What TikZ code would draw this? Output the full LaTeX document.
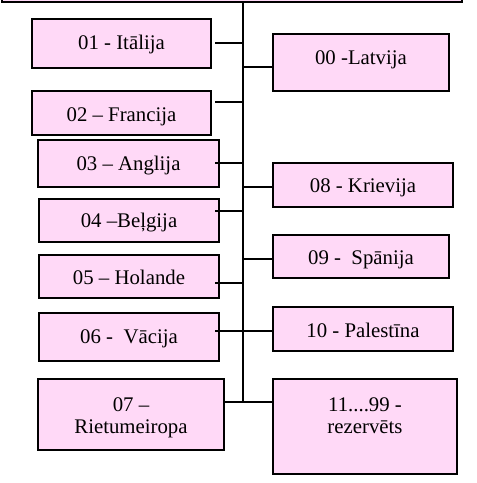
\documentclass[tikz,border=0pt]{standalone}
\usepackage{fontspec}
\setmainfont{Liberation Serif}
\definecolor{pinkfill}{RGB}{255,217,247}
\begin{document}
\begin{tikzpicture}[x=1pt,y=1pt,
  box/.style={draw=black, fill=pinkfill, line width=2pt, inner sep=0pt},
  txt/.style={anchor=base, inner sep=0pt, font=\fontsize{20.8}{22}\selectfont},
  conn/.style={draw=black, line width=2pt}]
\useasboundingbox (0,0) rectangle (477,-483);
% top box (cut off by the page)
\node[box, minimum width=460, minimum height=30, anchor=south west] (top) at (1,-3) {};
% left boxes
\node[box, minimum width=179, minimum height=49] (b01) at (121.5,-43.5) {};
\node[box, minimum width=179, minimum height=44] (b02) at (121.5,-113) {};
\node[box, minimum width=181, minimum height=47] (b03) at (128.5,-163.5) {};
\node[box, minimum width=180, minimum height=43] (b04) at (129,-220.5) {};
\node[box, minimum width=180, minimum height=43] (b05) at (129,-276.5) {};
\node[box, minimum width=180, minimum height=48] (b06) at (129,-337) {};
\node[box, minimum width=186, minimum height=71] (b07) at (131,-414.5) {};
% right boxes
\node[box, minimum width=176, minimum height=57] (b00) at (361,-62.5) {};
\node[box, minimum width=180, minimum height=44] (b08) at (363,-185) {};
\node[box, minimum width=176, minimum height=43] (b09) at (361,-256.5) {};
\node[box, minimum width=180, minimum height=44] (b10) at (363,-329) {};
\node[box, minimum width=184, minimum height=95] (b11) at (365,-426.5) {};
% texts
\node[txt] (t01) at (121.5,-49) {01 - Itālija};
\node[txt] (t02) at (121.5,-121) {02 – Francija};
\node[txt] (t03) at (128.5,-170) {03 – Anglija};
\node[txt] (t04) at (129,-227) {04 –Beļgija};
\node[txt] (t05) at (129,-284) {05 – Holande};
\node[txt] (t06) at (129,-343) {06 - \ Vācija};
\node[txt] (t07a) at (131,-411) {07 –};
\node[txt] (t07b) at (131,-433) {Rietumeiropa};
\node[txt] (t00) at (361,-64) {00 -Latvija};
\node[txt] (t08) at (363,-192) {08 - Krievija};
\node[txt] (t09) at (361,-264) {09 - \ Spānija};
\node[txt] (t10) at (363,-337) {10 - Palestīna};
\node[txt] (t11a) at (365,-411) {11....99 -};
\node[txt] (t11b) at (365,-433) {rezervēts};
% spine
\coordinate (sp) at (243,-402);
\draw[conn] (top.south -| sp) -- (sp);
% left connectors
\draw[conn] ([xshift=3,yshift=0.5]b01.east) -- ([yshift=0.5]b01.east -| sp);
\draw[conn] ([xshift=3,yshift=11]b02.east) -- ([yshift=11]b02.east -| sp);
\draw[conn] ([xshift=-5,yshift=0.5]b03.east) -- ([yshift=0.5]b03.east -| sp);
\draw[conn] ([xshift=-5,yshift=9.5]b04.east) -- ([yshift=9.5]b04.east -| sp);
\draw[conn] ([xshift=-5,yshift=-6.5]b05.east) -- ([yshift=-6.5]b05.east -| sp);
\draw[conn] ([xshift=-5,yshift=6]b06.east) -- ([yshift=6]b06.east -| b10.west);
\draw[conn] ([yshift=12.5]b07.east) -- (sp);
% right connectors
\draw[conn] ([yshift=-4.5]b00.west) -- ([yshift=-4.5]b00.west -| sp);
\draw[conn] ([yshift=-2]b08.west) -- ([yshift=-2]b08.west -| sp);
\draw[conn] ([yshift=-2.5]b09.west) -- ([yshift=-2.5]b09.west -| sp);
\draw[conn] ([yshift=24.5]b11.west) -- (sp);
\end{tikzpicture}
\end{document}
